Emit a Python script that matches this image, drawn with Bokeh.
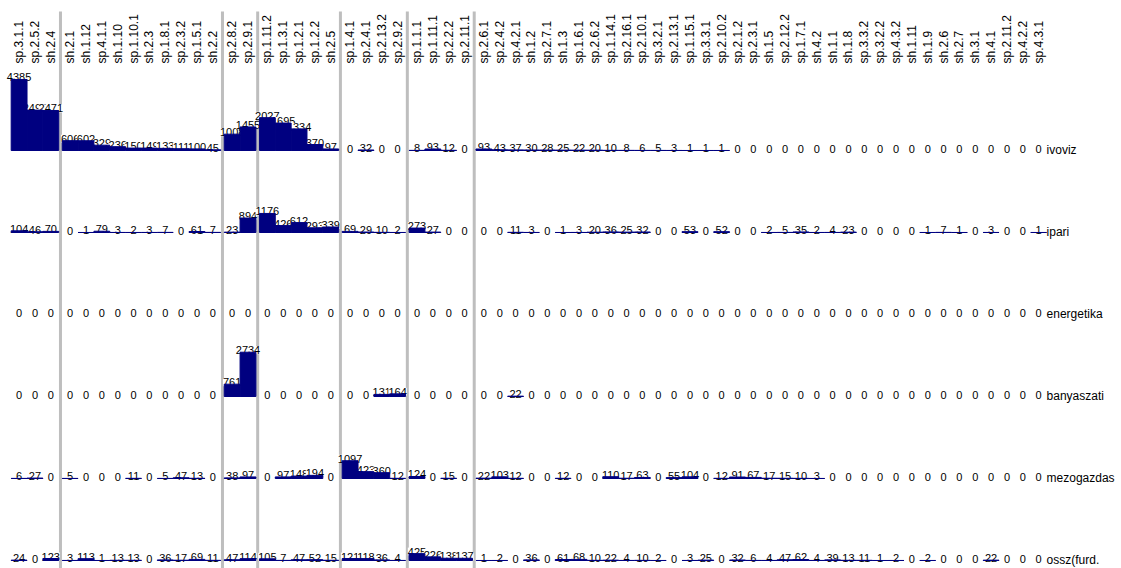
import math
from bokeh.plotting import figure
from bokeh.models import ColumnDataSource, Range1d
from bokeh.core.properties import value
from bokeh.embed import file_html
from bokeh.resources import INLINE

# ---------------- data ----------------
group1 = ["sp.3.1.1", "sp.2.5.2", "sh.2.4"]
group2 = ["sh.2.1", "sh.1.12", "sp.4.1.1", "sh.1.10", "sp.1.10.1", "sh.2.3",
          "sp.1.8.1", "sp.2.3.2", "sp.1.5.1", "sh.2.2"]
group3 = ["sp.2.8.2", "sp.2.9.1"]
group4 = ["sp.1.11.2", "sp.1.3.1", "sp.1.2.1", "sp.1.2.2", "sh.2.5"]
group5 = ["sp.1.4.1", "sp.2.4.1", "sp.2.13.2", "sp.2.9.2"]
group6 = ["sp.1.1.1", "sp.1.11.1", "sp.2.2.2", "sp.2.11.1"]
group7 = ["sp.2.6.1", "sp.2.4.2", "sp.4.2.1", "sh.1.2", "sp.2.7.1", "sh.1.3",
          "sp.1.6.1", "sp.2.6.2", "sp.1.14.1", "sp.2.16.1", "sp.2.10.1", "sp.3.2.1",
          "sp.2.13.1", "sp.1.15.1", "sp.3.3.1", "sp.2.10.2", "sp.2.1.2", "sp.2.3.1",
          "sh.1.5", "sp.2.12.2", "sp.1.7.1", "sh.4.2", "sh.1.1", "sh.1.8", "sp.3.3.2",
          "sp.3.2.2", "sp.4.3.2", "sh.1.11", "sh.1.9", "sh.2.6", "sh.2.7", "sh.3.1",
          "sh.4.1", "sp.2.11.2", "sp.4.2.2", "sp.4.3.1"]
groups = [group1, group2, group3, group4, group5, group6, group7]

sectors = ["ivoviz", "ipari", "energetika", "banyaszati", "mezogazdas", "ossz(furd."]

ivoviz = [4385, 2494, 2471,
          606, 602, 329, 236, 150, 149, 133, 111, 100, 45,
          1008, 1455,
          2027, 1695, 1334, 370, 97,
          0, 32, 0, 0,
          8, 93, 12, 0,
          93, 43, 37, 30, 28, 25, 22, 20, 10, 8, 6, 5, 3, 1, 1, 1, 0,
          0, 0, 0, 0, 0, 0, 0, 0, 0, 0, 0, 0, 0, 0, 0, 0, 0, 0, 0]
ipari = [104, 46, 70,
         0, 1, 79, 3, 2, 3, 7, 0, 61, 7,
         23, 894,
         1176, 426, 612, 293, 339,
         69, 29, 10, 2,
         273, 27, 0, 0,
         0, 0, 11, 3, 0, 1, 3, 20, 36, 25, 32, 0, 0, 53, 0, 52, 0,
         0, 2, 5, 35, 2, 4, 23, 0, 0, 0, 0, 1, 7, 1, 0, 3, 0, 0, 1]
energetika = [0, 0, 0,
              0, 0, 0, 0, 0, 0, 0, 0, 0, 0,
              0, 0,
              0, 0, 0, 0, 0,
              0, 0, 0, 0,
              0, 0, 0, 0,
              0, 0, 0, 0, 0, 0, 0, 0, 0, 0, 0, 0, 0, 0, 0, 0, 0,
              0, 0, 0, 0, 0, 0, 0, 0, 0, 0, 0, 0, 0, 0, 0, 0, 0, 0, 0]
banyaszati = [0, 0, 0,
              0, 0, 0, 0, 0, 0, 0, 0, 0, 0,
              761, 2734,
              0, 0, 0, 0, 0,
              0, 0, 131, 164,
              0, 0, 0, 0,
              0, 0, 22, 0, 0, 0, 0, 0, 0, 0, 0, 0, 0, 0, 0, 0, 0,
              0, 0, 0, 0, 0, 0, 0, 0, 0, 0, 0, 0, 0, 0, 0, 0, 0, 0, 0]
mezogazdas = [6, 27, 0,
              5, 0, 0, 0, 11, 0, 5, 47, 13, 0,
              38, 97,
              0, 97, 148, 194, 0,
              1097, 423, 360, 12,
              124, 0, 15, 0,
              22, 103, 12, 0, 0, 12, 0, 0, 110, 17, 63, 0, 55, 104, 0, 12, 91,
              67, 17, 15, 10, 3, 0, 0, 0, 0, 0, 0, 0, 0, 0, 0, 0, 0, 0, 0]
ossz = [24, 0, 123,
        3, 113, 1, 13, 13, 0, 36, 17, 69, 11,
        47, 114,
        105, 7, 47, 52, 15,
        121, 118, 36, 4,
        425, 226, 138, 137,
        1, 2, 0, 36, 0, 61, 68, 10, 22, 4, 10, 2, 0, 3, 25, 0, 32,
        6, 4, 47, 62, 4, 39, 13, 11, 1, 2, 0, 2, 0, 0, 0, 22, 0, 0, 0]
rows = [ivoviz, ipari, energetika, banyaszati, mezogazdas, ossz]

# ---------------- layout constants ----------------
W, H = 1121, 568          # figure size
COL_PX = 15.85            # column width in px
GAP = 3.5 / COL_PX        # extra gap between groups (in column units)
X0_PX = 18.6              # x of first column centre
BASE0_PX = 150.0          # y of first row baseline
ROW_PX = 82.0             # row spacing in px
UNIT_PX = 0.0162          # px per data unit (vertical)
FONT = "Liberation Sans"


def px_to_x(px):
    return (px - X0_PX) / COL_PX


def px_to_y(py):
    return (BASE0_PX - py) / UNIT_PX


ROW_SPAN = ROW_PX / UNIT_PX

# column x positions (with group gaps)
cols, xs, sep_x = [], [], []
i = 0
for g, grp in enumerate(groups):
    for c in grp:
        cols.append(c)
        xs.append(i + g * GAP)
        i += 1
    if g < len(groups) - 1:
        sep_x.append(xs[-1] + 0.5 + GAP / 2)

p = figure(width=W, height=H, output_backend="svg", toolbar_location=None,
           x_range=Range1d(px_to_x(0), px_to_x(W)),
           y_range=Range1d(px_to_y(H), px_to_y(0)),
           min_border=0, min_border_left=0, min_border_right=0,
           min_border_top=0, min_border_bottom=0)
p.axis.visible = False
p.grid.visible = False
p.outline_line_color = None
p.background_fill_color = "white"

# separators
p.segment(x0=sep_x, x1=sep_x, y0=[px_to_y(11)] * len(sep_x),
          y1=[px_to_y(H + 10)] * len(sep_x), line_color="#BEBEBE", line_width=3)

# cells
lx, ly, lt, bx, bb, bt = [], [], [], [], [], []
for r, vals in enumerate(rows):
    base = -r * ROW_SPAN
    for x, v in zip(xs, vals):
        lx.append(x)
        ly.append(base + v)
        lt.append(str(v))
        if v > 0:
            bx.append(x)
            bb.append(base)
            bt.append(base + v)

lab_src = ColumnDataSource(dict(x=lx, y=ly, t=lt))
p.text(x="x", y="y", text="t", source=lab_src, text_align="center",
       text_baseline="alphabetic", y_offset=-2, text_font=value(FONT),
       text_font_size="11px", text_color="black",
       background_fill_color="white")

bar_src = ColumnDataSource(dict(x=bx, bottom=bb, top=bt))
p.vbar(x="x", bottom="bottom", top="top", width=1.0, source=bar_src,
       fill_color="#000080", line_color="#000080", line_width=1)

# column labels (rotated)
p.text(x=xs, y=[px_to_y(63)] * len(xs), text=cols, angle=math.pi / 2,
       text_align="left", text_baseline="middle", text_font=value(FONT),
       text_font_size="12px", text_color="black")

# row labels
p.text(x=[xs[-1] + 0.5] * len(sectors),
       y=[-r * ROW_SPAN for r in range(len(sectors))], text=sectors,
       text_align="left", text_baseline="alphabetic", y_offset=-1,
       text_font=value(FONT), text_font_size="12px", text_color="black")

open("out.html", "w").write(file_html(p, INLINE))
